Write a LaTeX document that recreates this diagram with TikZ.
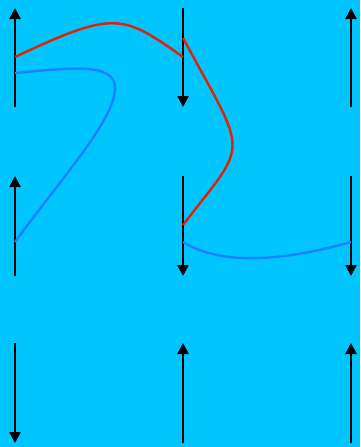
\documentclass[tikz,border=0pt]{standalone}
\usepackage{tikz}
\usetikzlibrary{arrows.meta}
\definecolor{skybg}{RGB}{0,197,255}
\definecolor{redline}{RGB}{225,35,0}
\definecolor{blueline}{RGB}{25,130,255}

\begin{document}
\begin{tikzpicture}[x=1pt, y=-1pt,
    spin/.style={draw=black, line width=2.4pt, -{Triangle[width=11pt,length=11pt]}},
    redpath/.style={draw=redline, line width=2.4pt},
    bluepath/.style={draw=blueline, line width=2.4pt}
    ]

    % Background
    \fill[skybg] (0,0) rectangle (360,447);

    % Arrow ends
    \coordinate (aT) at (15,8);    \coordinate (aB) at (15,107);
    \coordinate (bT) at (183,8);   \coordinate (bB) at (183,107);
    \coordinate (cT) at (351,8);   \coordinate (cB) at (351,107);
    \coordinate (dT) at (15,176);  \coordinate (dB) at (15,276);
    \coordinate (eT) at (183,176); \coordinate (eB) at (183,276);
    \coordinate (fT) at (351,176); \coordinate (fB) at (351,276);
    \coordinate (gT) at (15,343);  \coordinate (gB) at (15,443);
    \coordinate (hT) at (183,343); \coordinate (hB) at (183,443);
    \coordinate (iT) at (351,343); \coordinate (iB) at (351,443);

    % Contact points on the arrows
    \coordinate (aRed) at (15,57);   \coordinate (aBlue) at (15,73);
    \coordinate (bRedIn) at (183,57); \coordinate (bRedOut) at (183,38);
    \coordinate (dBlue) at (15,242);
    \coordinate (eRed) at (183,225); \coordinate (eBlue) at (183,242);
    \coordinate (fBlue) at (351,242);

    % Arrows
    \draw[spin] (aB) -- (aT);
    \draw[spin] (bT) -- (bB);
    \draw[spin] (cB) -- (cT);
    \draw[spin] (dB) -- (dT);
    \draw[spin] (eT) -- (eB);
    \draw[spin] (fT) -- (fB);
    \draw[spin] (gT) -- (gB);
    \draw[spin] (hB) -- (hT);
    \draw[spin] (iB) -- (iT);

    % Red lines
    \draw[redpath] (aRed) .. controls (115,10) and (122,14) .. (bRedIn);
    \draw[redpath] (bRedOut) .. controls (249,160) and (249,139) .. (eRed);

    % Blue lines
    \draw[bluepath] (aBlue) .. controls (70,68) and (115,62) .. (115,88)
        .. controls (115,120) and (60,180) .. (dBlue);
    \draw[bluepath] (eBlue) .. controls (220,265) and (280,262) .. (fBlue);
\end{tikzpicture}
\end{document}
